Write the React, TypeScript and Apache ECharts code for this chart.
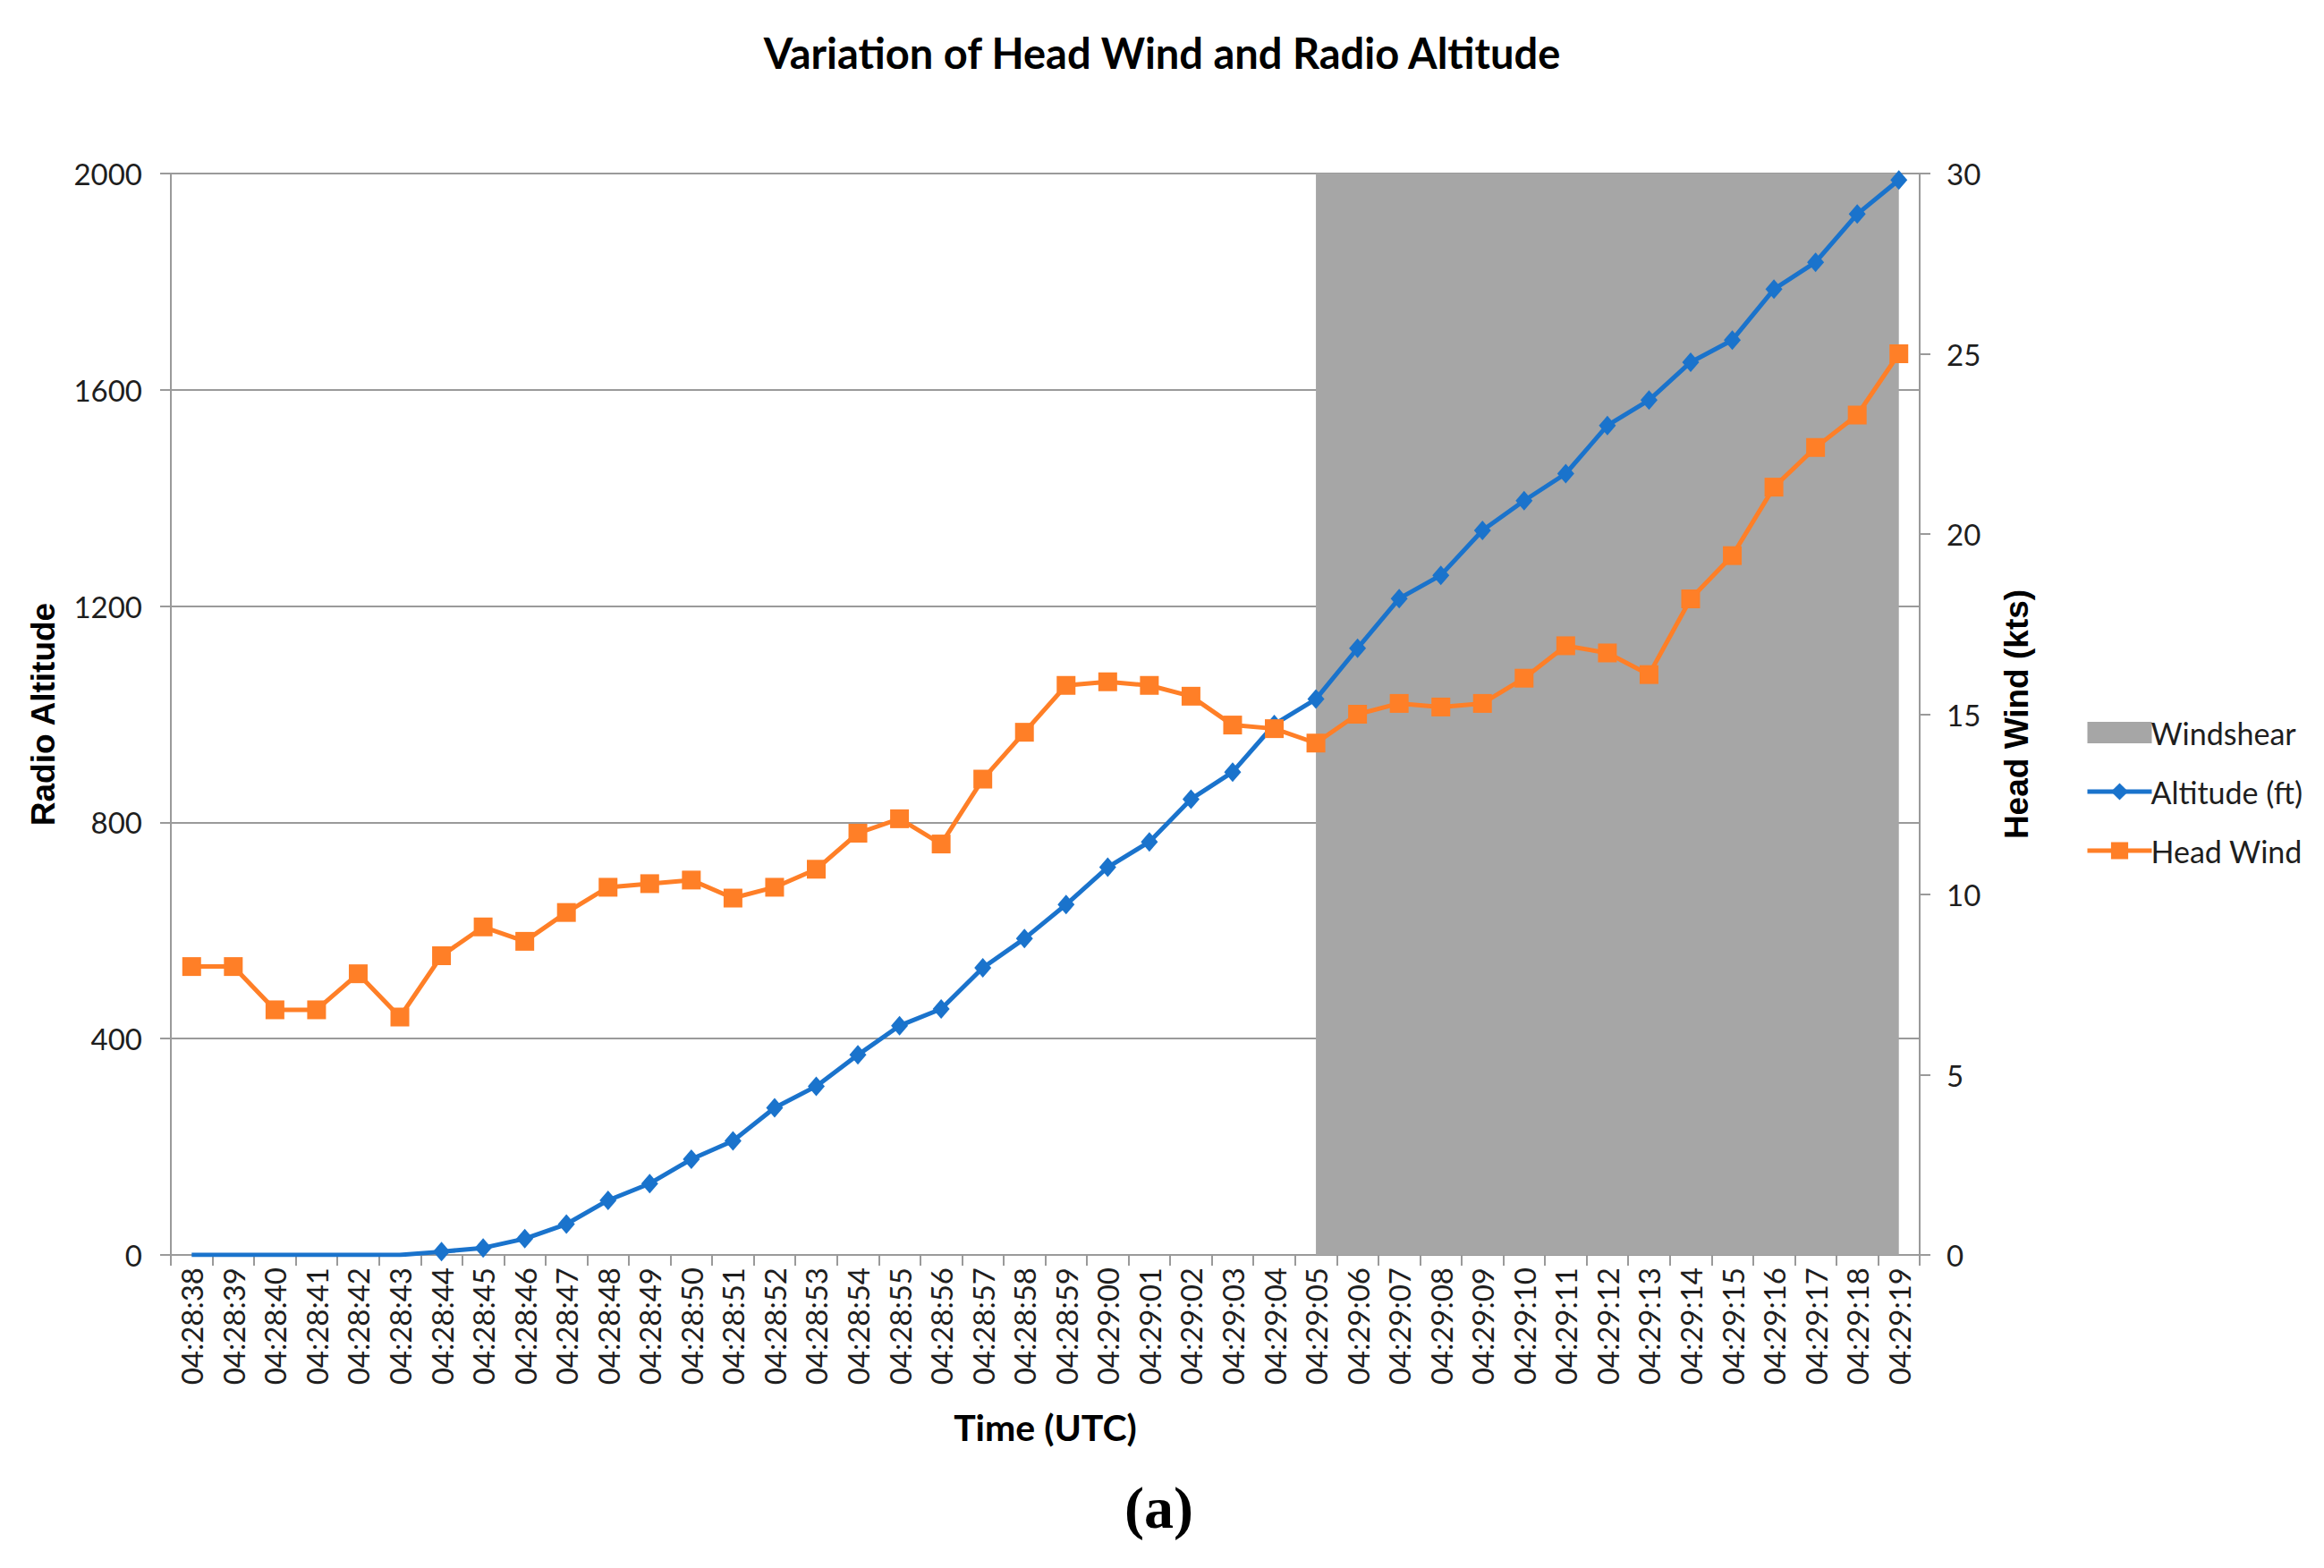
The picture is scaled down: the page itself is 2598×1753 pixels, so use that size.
import React, { useEffect, useRef } from "react";
import * as echarts from "echarts";

const times = [
  "04:28:38", "04:28:39", "04:28:40", "04:28:41", "04:28:42", "04:28:43", "04:28:44",
  "04:28:45", "04:28:46", "04:28:47", "04:28:48", "04:28:49", "04:28:50", "04:28:51",
  "04:28:52", "04:28:53", "04:28:54", "04:28:55", "04:28:56", "04:28:57", "04:28:58",
  "04:28:59", "04:29:00", "04:29:01", "04:29:02", "04:29:03", "04:29:04", "04:29:05",
  "04:29:06", "04:29:07", "04:29:08", "04:29:09", "04:29:10", "04:29:11", "04:29:12",
  "04:29:13", "04:29:14", "04:29:15", "04:29:16", "04:29:17", "04:29:18", "04:29:19",
];

const altitude = [
  0, 0, 0, 0, 0, 0, 6, 13, 30, 57, 101, 132, 177, 211, 272, 312, 370, 424, 455, 531, 585,
  648, 717, 764, 843, 893, 981, 1028, 1122, 1214, 1257, 1340, 1395, 1445, 1534, 1581, 1651,
  1692, 1786, 1836, 1925, 1988,
];

const headWind = [
  8.0, 8.0, 6.8, 6.8, 7.8, 6.6, 8.3, 9.1, 8.7, 9.5, 10.2, 10.3, 10.4, 9.9, 10.2, 10.7, 11.7,
  12.1, 11.4, 13.2, 14.5, 15.8, 15.9, 15.8, 15.5, 14.7, 14.6, 14.2, 15.0, 15.3, 15.2, 15.3,
  16.0, 16.9, 16.7, 16.1, 18.2, 19.4, 21.3, 22.4, 23.3, 25.0,
];

const windshear = [
  null, null, null, null, null, null, null, null, null, null, null, null, null, null,
  null, null, null, null, null, null, null, null, null, null, null, null, null, 2000,
  2000, 2000, 2000, 2000, 2000, 2000, 2000, 2000, 2000, 2000, 2000, 2000, 2000, 2000,
];

const leftTicks = { min: 0, max: 2000, interval: 400 };
const rightTicks = { min: 0, max: 30, interval: 5 };

const BLUE = "#1A73CC";
const ORANGE = "#FF7F27";
const GRAY = "#A6A6A6";
const AXIS = "#9A9A9A";
const TXT = "#1e1e1e";

export default function App() {
  const ref = useRef<HTMLDivElement>(null);

  useEffect(() => {
    document.body.style.margin = "0";
    const chart = echarts.init(ref.current!, null, { renderer: "svg" });
    chart.setOption({
      animation: false,
      backgroundColor: "#ffffff",
      title: {
        text: "Variation of Head Wind and Radio Altitude",
        left: "center",
        top: 30,
        textStyle: { fontFamily: "Lato", fontWeight: "bold", fontSize: 47, color: "#000" },
      },
      grid: { left: 191, right: 452, top: 194, bottom: 350, containLabel: false },
      legend: {
        orient: "vertical",
        left: 2326,
        top: 797,
        itemWidth: 72,
        itemHeight: 24,
        itemGap: 32,
        textStyle: { fontFamily: "Lato", fontSize: 34, color: TXT, padding: [0, 0, 0, -6] },
        data: [
          { name: "Windshear", icon: "rect", itemStyle: { color: GRAY } },
          { name: "Altitude (ft)", lineStyle: { width: 5, color: BLUE } },
          { name: "Head Wind", lineStyle: { width: 5, color: ORANGE } },
        ],
      },
      xAxis: {
        type: "category",
        data: times,
        boundaryGap: true,
        name: "Time (UTC)",
        nameLocation: "middle",
        nameGap: 172,
        nameTextStyle: { fontFamily: "Lato", fontWeight: "bold", fontSize: 41, color: "#000" },
        axisLine: { lineStyle: { color: AXIS, width: 2 } },
        axisTick: { show: true, interval: 0, length: 12, lineStyle: { color: AXIS, width: 2 } },
        axisLabel: {
          interval: 0,
          rotate: 90,
          margin: 14,
          fontFamily: "Lato",
          fontSize: 33,
          color: TXT,
        },
      },
      yAxis: [
        {
          type: "value",
          ...leftTicks,
          name: "Radio Altitude",
          nameLocation: "middle",
          nameGap: 124,
          nameTextStyle: {
            fontFamily: "Liberation Sans",
            fontWeight: "bold",
            fontSize: 37,
            color: "#000",
          },
          axisLine: { show: true, lineStyle: { color: AXIS, width: 2 } },
          axisTick: { show: true, length: 12, lineStyle: { color: AXIS, width: 2 } },
          splitLine: { show: true, lineStyle: { color: AXIS, width: 2 } },
          axisLabel: {
            fontFamily: "Lato",
            fontSize: 33,
            color: TXT,
            margin: 32,
            formatter: (v: number) => String(v),
          },
        },
        {
          type: "value",
          ...rightTicks,
          position: "right",
          name: "Head Wind (kts)",
          nameLocation: "middle",
          nameGap: 90,
          nameTextStyle: {
            fontFamily: "Liberation Sans",
            fontWeight: "bold",
            fontSize: 37,
            color: "#000",
          },
          axisLine: { show: true, lineStyle: { color: AXIS, width: 2 } },
          axisTick: { show: true, length: 12, lineStyle: { color: AXIS, width: 2 } },
          splitLine: { show: false },
          axisLabel: { fontFamily: "Lato", fontSize: 33, color: TXT, margin: 30 },
        },
      ],
      series: [
        {
          name: "Windshear",
          type: "line",
          yAxisIndex: 0,
          data: windshear,
          symbol: "none",
          lineStyle: { width: 0, color: GRAY },
          itemStyle: { color: GRAY },
          areaStyle: { color: GRAY, opacity: 1 },
          z: 1,
        },
        {
          name: "Altitude (ft)",
          type: "line",
          yAxisIndex: 0,
          data: altitude.map((v) => (v === 0 ? { value: v, symbol: "none" } : v)),
          symbol: "diamond",
          symbolSize: [19, 22],
          lineStyle: { width: 5, color: BLUE },
          itemStyle: { color: BLUE },
          z: 3,
        },
        {
          name: "Head Wind",
          type: "line",
          yAxisIndex: 1,
          data: headWind,
          symbol: "rect",
          symbolSize: 21,
          lineStyle: { width: 5, color: ORANGE },
          itemStyle: { color: ORANGE },
          z: 4,
        },
      ],
      graphic: [
        {
          type: "text",
          left: 1299 - 42,
          top: 1652,
          style: {
            text: "(a)",
            font: "bold 66px 'Liberation Serif', 'Times New Roman', serif",
            fill: "#000",
          },
        },
      ],
    });
    return () => chart.dispose();
  }, []);

  return <div ref={ref} style={{ width: 2598, height: 1753 }} />;
}
